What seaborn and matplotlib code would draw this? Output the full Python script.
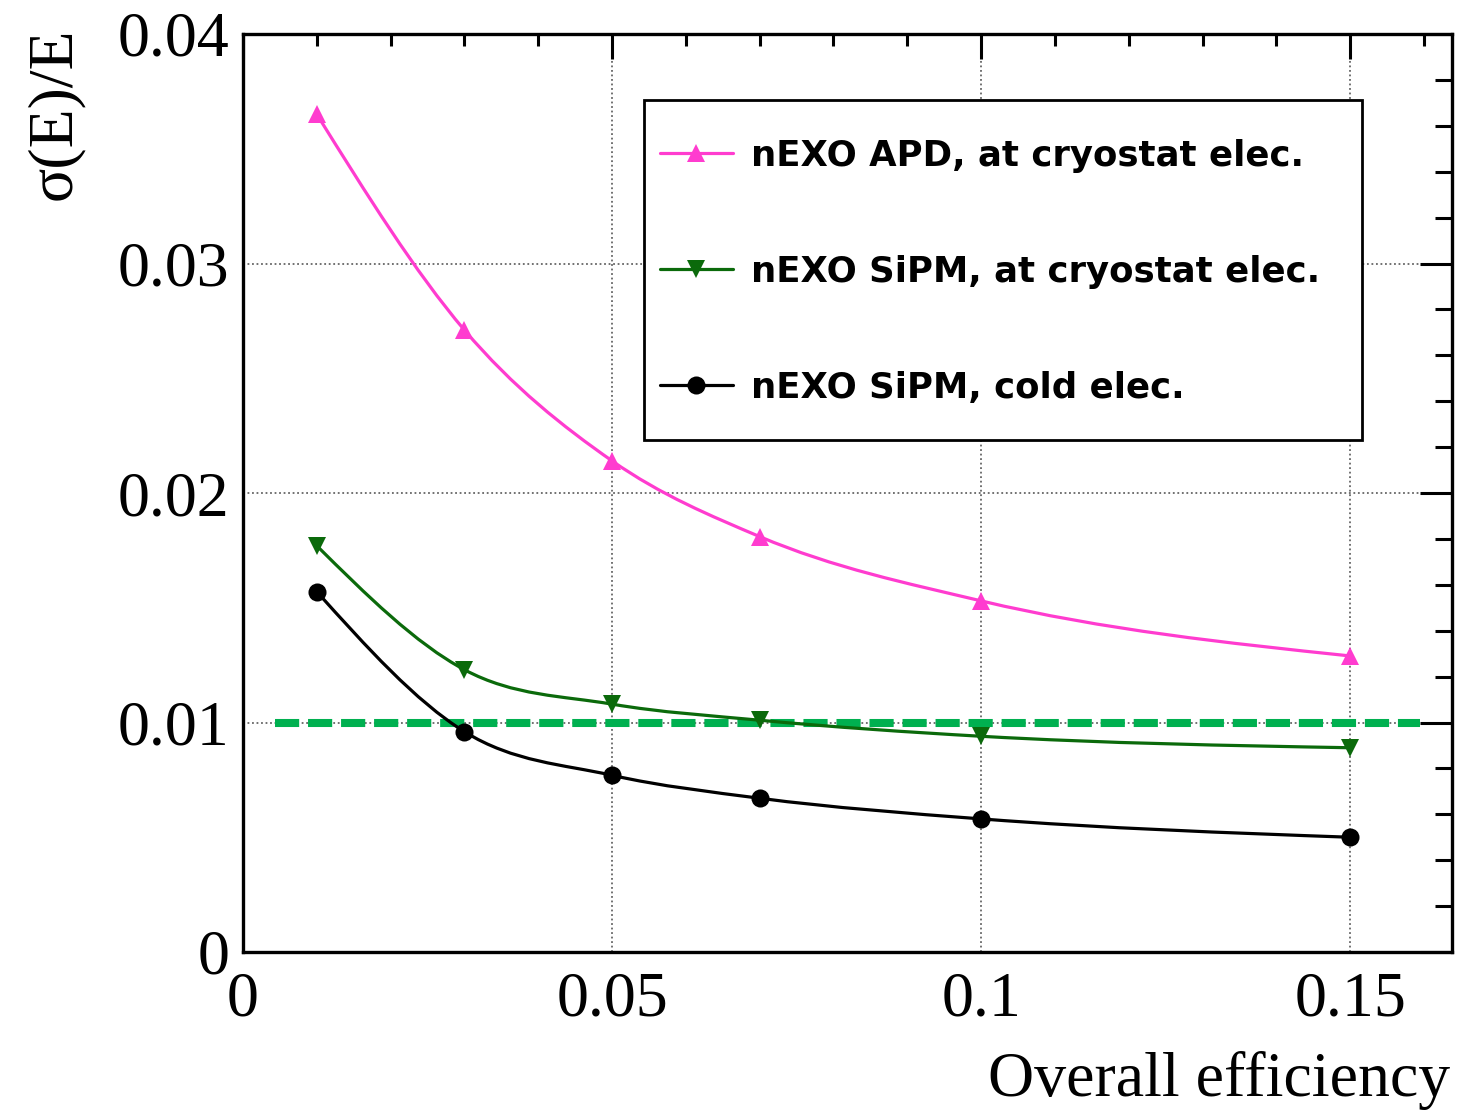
import numpy as np
import pandas as pd
import matplotlib
matplotlib.use("Agg")
import matplotlib.pyplot as plt
import seaborn as sns
from matplotlib.path import Path
from matplotlib.patches import PathPatch, Rectangle
from matplotlib.lines import Line2D
from matplotlib.ticker import MultipleLocator, FixedLocator, FixedFormatter

# ---------------- data ----------------
efficiency = [0.01, 0.03, 0.05, 0.07, 0.10, 0.15]
apd_cryostat = [0.0365, 0.0271, 0.0214, 0.0181, 0.0153, 0.0129]
sipm_cryostat = [0.0177, 0.0123, 0.0108, 0.0101, 0.0094, 0.0089]
sipm_cold = [0.0157, 0.0096, 0.0077, 0.0067, 0.0058, 0.0050]
series_labels = ["nEXO APD, at cryostat elec.",
                 "nEXO SiPM, at cryostat elec.",
                 "nEXO SiPM, cold elec."]
target_resolution = 0.01
target_span = [0.0043, 0.1595]
x_ticks = [0, 0.05, 0.1, 0.15]
x_tick_labels = ["0", "0.05", "0.1", "0.15"]
y_ticks = [0, 0.01, 0.02, 0.03, 0.04]
y_tick_labels = ["0", "0.01", "0.02", "0.03", "0.04"]
x_title = "Overall efficiency"
y_title = "σ(E)/E"

# ---------------- style ----------------
sns.set_style("white")
plt.rcParams["font.family"] = ["Liberation Serif", "DejaVu Serif"]
for key in ["text.color", "axes.labelcolor", "xtick.color", "ytick.color", "axes.edgecolor"]:
    plt.rcParams[key] = "black"

fig = plt.figure(figsize=(14.76, 11.11), dpi=100)
ax = fig.add_axes([243 / 1476, 1 - 952 / 1111, (1452 - 243) / 1476, (952 - 34) / 1111])

colors = ["#ff3ccf", "#0b6a0b", "#000000"]
markers = ["^", "v", "o"]
msizes = [13, 13, 13]
series = [apd_cryostat, sipm_cryostat, sipm_cold]


def smooth_path(x, y):
    x = np.asarray(x, float)
    y = np.asarray(y, float)
    n = len(x)
    h = np.diff(x)
    d = np.diff(y) / h
    m = np.empty(n)
    m[1:-1] = (h[1:] * d[:-1] + h[:-1] * d[1:]) / (h[:-1] + h[1:])
    m[0] = 1.5 * d[0] - 0.5 * m[1]
    m[-1] = 1.5 * d[-1] - 0.5 * m[-2]
    verts = [(x[0], y[0])]
    codes = [Path.MOVETO]
    for i in range(n - 1):
        hh = h[i]
        verts += [(x[i] + hh / 3, y[i] + m[i] * hh / 3),
                  (x[i + 1] - hh / 3, y[i + 1] - m[i + 1] * hh / 3),
                  (x[i + 1], y[i + 1])]
        codes += [Path.CURVE4] * 3
    return Path(verts, codes)


# target line
sns.lineplot(x=target_span, y=[target_resolution] * len(target_span), ax=ax,
             color="#00b050", lw=5.8, linestyle=(0, (3, 1.1)),
             dash_capstyle="butt", legend=False, zorder=3)

handles = []
for vals, c, mk, ms, lab in zip(series, colors, markers, msizes, series_labels):
    ax.add_patch(PathPatch(smooth_path(efficiency, vals), transform=ax.transData,
                           fill=False, edgecolor=c, lw=2.3, zorder=4))
    sns.lineplot(x=efficiency, y=vals, ax=ax, color=c, marker=mk, markersize=ms,
                 markeredgewidth=0, lw=0, legend=False, zorder=5)
    handles.append(Line2D([0], [0], color=c, lw=2.3, marker=mk, markersize=ms,
                          markeredgewidth=0, label=lab))

ax.set_xlim(0, 0.1638)
ax.set_ylim(0, 0.04)
ax.xaxis.set_major_locator(FixedLocator(x_ticks))
ax.xaxis.set_major_formatter(FixedFormatter(x_tick_labels))
ax.yaxis.set_major_locator(FixedLocator(y_ticks))
ax.yaxis.set_major_formatter(FixedFormatter(y_tick_labels))
ax.xaxis.set_minor_locator(MultipleLocator(0.01))
ax.yaxis.set_minor_locator(MultipleLocator(0.002))
ax.tick_params(which="both", direction="in", top=True, right=True, width=2.2,
               color="black", labelcolor="black", labelsize=46)
ax.tick_params(axis="x", which="major", length=18, pad=14)
ax.tick_params(axis="x", which="minor", length=8.5)
ax.tick_params(axis="y", which="major", length=23, pad=10)
ax.tick_params(axis="y", which="minor", length=12.5)
for sp in ax.spines.values():
    sp.set_linewidth(2.4)
    sp.set_color("black")
    sp.set_visible(True)

ax.grid(which="major", linestyle=(0, (1, 1.5)), color="#666666", lw=1.3, zorder=0)
ax.set_axisbelow(True)
ax.set_xlabel("")
ax.set_ylabel("")

fig.text(1450 / 1476, 1 - 1080 / 1111, x_title, ha="right", va="center",
         fontsize=46, color="black")
fig.text(55 / 1476, 1 - 28 / 1111, y_title, ha="center", va="top", rotation=90,
         fontsize=46, color="black")

# legend frame
ax.add_patch(Rectangle((0.3317, 0.5577), 0.5938, 0.3704, transform=ax.transAxes,
                       facecolor="white", edgecolor="black", lw=2.0, zorder=6))
leg = ax.legend(handles=handles, loc="upper left", bbox_to_anchor=(0.3449, 0.886),
                frameon=False, borderpad=0, borderaxespad=0,
                handlelength=2.05, handletextpad=0.5, labelspacing=2.31,
                prop={"family": ["DejaVu Sans"], "weight": "bold", "size": 25.6})
for t in leg.get_texts():
    t.set_color("black")
leg.set_zorder(7)

fig.savefig("out.png", dpi=100)
